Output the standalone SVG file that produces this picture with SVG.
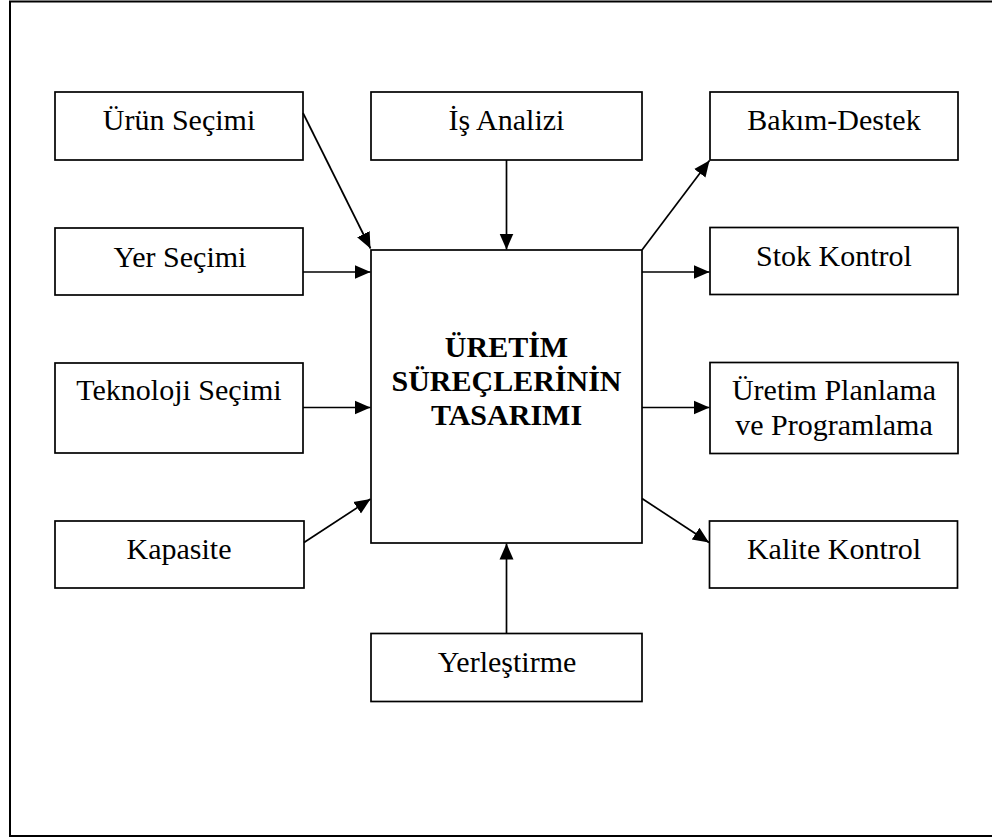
<svg xmlns="http://www.w3.org/2000/svg" width="992" height="837" viewBox="0 0 992 837">
  <style>
    .box { fill: #fff; stroke: #000; stroke-width: 1.7; }
    .lbl { font-family: "Liberation Serif", "Times New Roman", serif; font-size: 30px; fill: #000; text-anchor: middle; }
    .title { font-weight: bold; }
    .edge { fill: none; stroke: #000; stroke-width: 1.7; marker-end: url(#arrow); }
  </style>
  <defs>
    <marker id="arrow" markerUnits="userSpaceOnUse" markerWidth="18" markerHeight="16" refX="16" refY="8" orient="auto">
      <path d="M0,1 L16,8 L0,15 Z" fill="#000"/>
    </marker>
  </defs>

  <rect width="992" height="837" fill="#fff"/>
  <!-- page frame (open on the right side) -->
  <path d="M 992 1.5 H 10 V 836 H 992" fill="none" stroke="#000" stroke-width="2"/>

  <!-- left column: inputs -->
  <g id="urun-secimi">
    <rect class="box" x="55" y="92" width="248" height="68"/>
    <text class="lbl" x="179" y="130">Ürün Seçimi</text>
  </g>
  <g id="yer-secimi">
    <rect class="box" x="55" y="228" width="248" height="67"/>
    <text class="lbl" x="180" y="266.5">Yer Seçimi</text>
  </g>
  <g id="teknoloji-secimi">
    <rect class="box" x="55" y="363" width="248" height="90"/>
    <text class="lbl" x="179" y="400">Teknoloji Seçimi</text>
  </g>
  <g id="kapasite">
    <rect class="box" x="55" y="521" width="249" height="67"/>
    <text class="lbl" x="179" y="559">Kapasite</text>
  </g>

  <!-- centre column -->
  <g id="is-analizi">
    <rect class="box" x="371" y="92" width="271" height="68"/>
    <text class="lbl" x="506.5" y="130">İş Analizi</text>
  </g>
  <g id="uretim-surecleri">
    <rect class="box" x="371" y="250" width="271" height="293"/>
    <text class="lbl title" x="506.5" y="356.5">ÜRETİM</text>
    <text class="lbl title" x="506.5" y="391">SÜREÇLERİNİN</text>
    <text class="lbl title" x="506.5" y="425">TASARIMI</text>
  </g>
  <g id="yerlestirme">
    <rect class="box" x="371" y="633.5" width="271" height="68"/>
    <text class="lbl" x="507" y="671.5">Yerleştirme</text>
  </g>

  <!-- right column: outputs -->
  <g id="bakim-destek">
    <rect class="box" x="710" y="92" width="248" height="68"/>
    <text class="lbl" x="834" y="130">Bakım-Destek</text>
  </g>
  <g id="stok-kontrol">
    <rect class="box" x="710" y="227.5" width="248" height="67"/>
    <text class="lbl" x="834" y="265.5">Stok Kontrol</text>
  </g>
  <g id="uretim-planlama">
    <rect class="box" x="710" y="362.5" width="248" height="91"/>
    <text class="lbl" x="834" y="400">Üretim Planlama</text>
    <text class="lbl" x="834" y="435">ve Programlama</text>
  </g>
  <g id="kalite-kontrol">
    <rect class="box" x="709.5" y="521" width="248" height="67"/>
    <text class="lbl" x="834" y="559">Kalite Kontrol</text>
  </g>

  <!-- connectors -->
  <g id="connectors">
    <line class="edge" x1="303" y1="113" x2="370.5" y2="248.5"/>
    <line class="edge" x1="303" y1="272" x2="370.5" y2="272"/>
    <line class="edge" x1="303" y1="407.5" x2="370.5" y2="407.5"/>
    <line class="edge" x1="304" y1="542.5" x2="370.5" y2="499"/>
    <line class="edge" x1="506.5" y1="160" x2="506.5" y2="249.5"/>
    <line class="edge" x1="506.5" y1="633.5" x2="506.5" y2="543.5"/>
    <line class="edge" x1="642" y1="250" x2="709.5" y2="160.5"/>
    <line class="edge" x1="642" y1="272" x2="709.5" y2="272"/>
    <line class="edge" x1="642" y1="407.5" x2="709.5" y2="407.5"/>
    <line class="edge" x1="642" y1="498.5" x2="709" y2="542.5"/>
  </g>
</svg>
